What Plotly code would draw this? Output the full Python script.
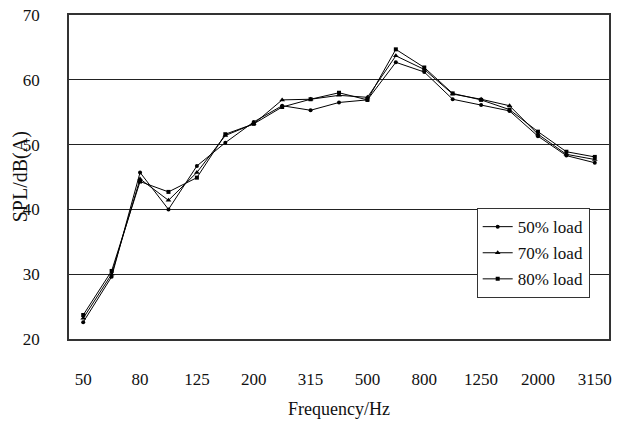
import plotly.graph_objects as go

freqs = ["50", "63", "80", "100", "125", "160", "200", "250", "315", "400",
         "500", "630", "800", "1000", "1250", "1600", "2000", "2500", "3150"]
tick_labels = ["50", "80", "125", "200", "315", "500", "800", "1250", "2000", "3150"]

load50 = [22.6, 29.6, 45.7, 40.0, 46.7, 50.3, 53.5, 56.0, 55.3, 56.5,
          56.9, 62.7, 61.2, 57.0, 56.1, 55.2, 51.3, 48.3, 47.2]
load70 = [23.2, 30.0, 44.7, 41.4, 45.7, 51.4, 53.2, 56.9, 57.0, 57.6,
          57.3, 63.7, 61.6, 57.8, 57.0, 56.0, 51.6, 48.5, 47.7]
load80 = [23.7, 30.5, 44.3, 42.7, 44.9, 51.6, 53.2, 55.8, 57.0, 58.0,
          56.9, 64.7, 61.9, 57.9, 56.9, 55.4, 52.0, 48.9, 48.1]

FONT = "Liberation Serif"

fig = go.Figure()
series = [("50% load", load50, "circle", 4),
          ("70% load", load70, "triangle-up", 5),
          ("80% load", load80, "square", 4)]
for name, vals, sym, sz in series:
    fig.add_trace(go.Scatter(
        x=freqs, y=vals, name=name, mode="lines+markers", legendgroup=name,
        line=dict(color="black", width=1),
        marker=dict(symbol=sym, size=sz, color="black"),
    ))

fig.update_layout(
    width=617, height=426,
    margin=dict(l=69, r=5, t=15, b=87),
    paper_bgcolor="white", plot_bgcolor="white",
    font=dict(family=FONT, size=17, color="#111"),
    showlegend=True,
    legend=dict(
        x=0.755, y=0.404, xanchor="left", yanchor="top",
        bgcolor="white", bordercolor="#333", borderwidth=1,
        font=dict(family=FONT, size=17, color="#111"),
        itemwidth=30, tracegroupgap=1,
    ),
    xaxis=dict(
        type="category", categoryorder="array", categoryarray=freqs,
        tickmode="array", tickvals=tick_labels[:], ticktext=tick_labels,
        showgrid=False, showline=True, linecolor="#333", linewidth=2,
        mirror=True, ticks="", ticklabelstandoff=24,
        title=dict(text="Frequency/Hz", font=dict(family=FONT, size=18), standoff=14),
        range=[-0.5, len(freqs) - 0.5],
    ),
    yaxis=dict(
        range=[20, 70], tickvals=[20, 30, 40, 50, 60, 70],
        showgrid=True, gridcolor="#222", gridwidth=1,
        showline=True, linecolor="#333", linewidth=1.5, mirror=True,
        ticks="", ticklabelstandoff=24, zeroline=False,
    ),
    annotations=[dict(
        text="SPL/dB(A)", textangle=-90, showarrow=False,
        xref="paper", yref="paper", x=-69/543 + 20/543, y=0.5,
        xanchor="center", yanchor="middle",
        font=dict(family=FONT, size=20, color="#111"),
    )],
)

fig.write_html("out.html", config={"displayModeBar": False},
               post_script="document.body.style.margin='0';")
